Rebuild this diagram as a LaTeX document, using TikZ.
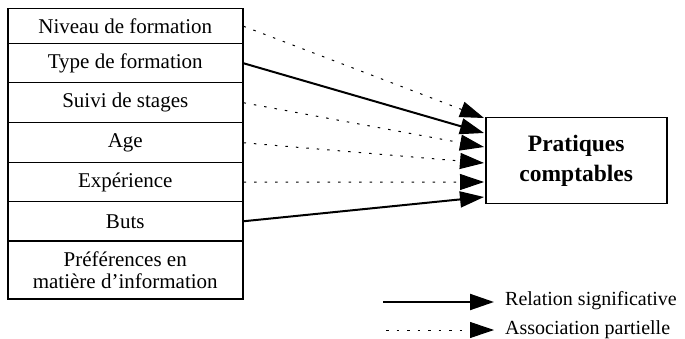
\documentclass[tikz,border=0pt]{standalone}
\usepackage{fontspec}
\setmainfont{Liberation Serif}
\usetikzlibrary{arrows.meta}
\begin{document}
\begin{tikzpicture}[x=1pt,y=-1pt,
  rowbox/.style={draw,line width=1.5pt,minimum width=235pt,inner sep=0pt,anchor=north west,
    font=\fontsize{21}{22}\selectfont,align=center},
  sig/.style={line width=2pt,-{Triangle[length=24pt,width=16pt]}},
  part/.style={line width=1pt,dash pattern=on 2.5pt off 8pt,-{Triangle[length=24pt,width=16pt]}},
  legtext/.style={anchor=west,font=\fontsize{20}{22}\selectfont,inner sep=0pt}]
\useasboundingbox (0,0) rectangle (685,339);
\node[rowbox,minimum height=35pt] (niv) at (7,8) {Niveau de formation};
\node[rowbox,minimum height=39pt] (typ) at (7,43) {Type de formation};
\node[rowbox,minimum height=40pt] (sui) at (7,82) {Suivi de stages};
\node[rowbox,minimum height=40pt] (age) at (7,122) {Age};
\node[rowbox,minimum height=39pt] (exp) at (7,162) {Expérience};
\node[rowbox,minimum height=39pt] (but) at (7,201) {Buts};
\node[rowbox,minimum height=58pt] (pre) at (7,240) {Préférences en\\matière d'information};
\node[draw,line width=1.5pt,minimum width=181pt,minimum height=86pt,inner sep=0pt,
  anchor=north west,align=center,font=\bfseries\fontsize{23.5}{30}\selectfont]
  (pra) at (485,117) {Pratiques\\comptables};
\coordinate (t1) at (484,118);
\coordinate (t2) at (484,133);
\coordinate (t3) at (484,147);
\coordinate (t4) at (484,163);
\coordinate (t5) at (484,182);
\coordinate (t6) at (484,197);
\draw[part] (niv.east) -- (t1);
\draw[sig] (typ.east) -- (t2);
\draw[part] (sui.east) -- (t3);
\draw[part] (age.east) -- (t4);
\draw[part] (exp.east) -- (t5);
\draw[sig] (but.east) -- (t6);
% legend
\coordinate (l1a) at (383,302);
\coordinate (l1b) at (494,302);
\coordinate (l2a) at (386,330);
\coordinate (l2b) at (494,330);
\draw[sig] (l1a) -- (l1b);
\draw[part] (l2a) -- (l2b);
\node[legtext] (lt1) at (505,301) {Relation significative};
\node[legtext] (lt2) at (505,330) {Association partielle};
\end{tikzpicture}
\end{document}
